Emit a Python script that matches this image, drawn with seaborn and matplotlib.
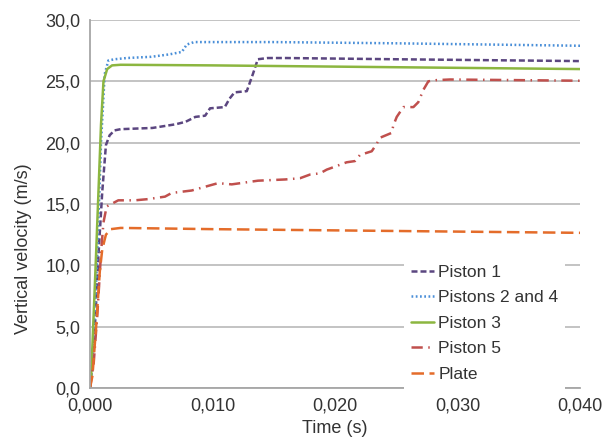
import numpy as np
import pandas as pd
import matplotlib
matplotlib.use("Agg")
import matplotlib.pyplot as plt
from matplotlib.ticker import FuncFormatter
import seaborn as sns

# ---- data ----
t_p1 = [0, 0.0003, 0.0007, 0.0010, 0.0013, 0.0016, 0.0020, 0.0025, 0.0051, 0.0070, 0.0078, 0.0086,
        0.0094, 0.0098, 0.0110, 0.0114, 0.0118, 0.0128, 0.0133, 0.0137, 0.0145, 0.0160, 0.0250, 0.0400]
v_p1 = [0, 3.0, 11.0, 16.0, 19.8, 20.6, 21.0, 21.1, 21.2, 21.5, 21.7, 22.1,
        22.2, 22.8, 22.9, 23.6, 24.1, 24.2, 25.6, 26.8, 26.9, 26.9, 26.8, 26.65]

t_p24 = [0, 0.0003, 0.0006, 0.0009, 0.0012, 0.0015, 0.0020, 0.0030, 0.0050, 0.0065, 0.0075, 0.0079,
         0.0085, 0.0150, 0.0250, 0.0400]
v_p24 = [0, 4.0, 11.0, 20.0, 25.6, 26.7, 26.8, 26.9, 27.0, 27.2, 27.4, 28.0,
         28.2, 28.2, 28.1, 27.9]

t_p3 = [0, 0.0001, 0.0005, 0.0009, 0.0011, 0.0014, 0.0018, 0.0025, 0.0100, 0.0200, 0.0300, 0.0400]
v_p3 = [0, 1.0, 11.0, 21.5, 25.0, 26.0, 26.3, 26.35, 26.3, 26.2, 26.1, 26.0]

t_p5 = [0, 0.0003, 0.0006, 0.0009, 0.0011, 0.00136, 0.00231, 0.00367, 0.00476, 0.00612, 0.00667,
        0.0083, 0.01045, 0.01157, 0.01371, 0.01592, 0.01714, 0.01796, 0.01878, 0.01932, 0.02014,
        0.02095, 0.02163, 0.02204, 0.0230, 0.0234, 0.02367, 0.02463, 0.02476, 0.02504, 0.02558,
        0.0264, 0.0268, 0.02721, 0.02762, 0.0283, 0.02939, 0.0400]
v_p5 = [0, 2.0, 6.0, 11.0, 13.5, 14.8, 15.3, 15.3, 15.4, 15.6, 15.9,
        16.1, 16.7, 16.6, 16.9, 17.0, 17.1, 17.4, 17.5, 17.8, 18.1,
        18.4, 18.5, 19.0, 19.3, 19.9, 20.4, 20.8, 21.4, 22.1, 22.9,
        22.9, 23.3, 24.3, 25.0, 25.1, 25.15, 25.05]

t_plate = [0, 0.0002, 0.0005, 0.0008, 0.0010, 0.0013, 0.0017, 0.0025, 0.0100, 0.0200, 0.0300, 0.0400]
v_plate = [0, 1.0, 5.0, 9.5, 11.3, 12.5, 12.95, 13.05, 12.95, 12.85, 12.75, 12.65]

series_names = ["Piston 1", "Pistons 2 and 4", "Piston 3", "Piston 5", "Plate"]
series_t = [t_p1, t_p24, t_p3, t_p5, t_plate]
series_v = [v_p1, v_p24, v_p3, v_p5, v_plate]

x_ticks = [0.0, 0.01, 0.02, 0.03, 0.04]
y_ticks = [0, 5, 10, 15, 20, 25, 30]

frames = []
for name, t, v in zip(series_names, series_t, series_v):
    frames.append(pd.DataFrame({"Time": t, "Velocity": v, "Series": name}))
df = pd.concat(frames, ignore_index=True)

palette = {
    "Piston 1": "#5B4680",
    "Pistons 2 and 4": "#4A8FD8",
    "Piston 3": "#8CB640",
    "Piston 5": "#C0504D",
    "Plate": "#E46C2A",
}
dashes = {
    "Piston 1": (2.4, 1.2),
    "Pistons 2 and 4": (0.7, 1.0),
    "Piston 3": "",
    "Piston 5": (4.5, 2.2, 0.6, 2.2),
    "Plate": (5.0, 2.2),
}

sns.set_style("white")
plt.rcParams["font.family"] = ["Liberation Sans", "DejaVu Sans"]

fig = plt.figure(figsize=(6.03, 4.47), dpi=100)
ax = fig.add_axes([90 / 603, 1 - 388 / 447, 490 / 603, 368 / 447])

sns.lineplot(data=df, x="Time", y="Velocity", hue="Series", style="Series",
             hue_order=series_names, style_order=series_names,
             palette=palette, dashes=dashes, linewidth=1.8,
             estimator=None, sort=False, ax=ax)

ax.set_xlim(0, 0.04)
ax.set_ylim(0, 30)
ax.set_xticks(x_ticks)
ax.set_yticks(y_ticks)
ax.xaxis.set_major_formatter(FuncFormatter(lambda v, p: f"{v:.3f}".replace(".", ",")))
ax.yaxis.set_major_formatter(FuncFormatter(lambda v, p: f"{v:.1f}".replace(".", ",")))
ax.grid(axis="y", color="#BEBEBE", linewidth=1.3)
ax.grid(axis="x", visible=False)
ax.set_axisbelow(True)
for s in ["top", "right"]:
    ax.spines[s].set_visible(False)
for s in ["left", "bottom"]:
    ax.spines[s].set_color("#A6A6A6")
    ax.spines[s].set_linewidth(1.3)
ax.tick_params(axis="both", length=0, labelsize=13, colors="#333333", pad=7)
ax.set_xlabel("Time (s)", fontsize=13, color="#333333", labelpad=4)
ax.set_ylabel("Vertical velocity (m/s)", fontsize=13, color="#333333")
ax.yaxis.set_label_coords((32 - 90) / 490, (388 - 249) / 368)

handles, labels = ax.get_legend_handles_labels()
leg = ax.legend(handles, labels, loc="upper left", bbox_to_anchor=(395 / 603, 1 - 249 / 447),
                bbox_transform=fig.transFigure, frameon=True, fontsize=12.5,
                handlelength=1.35, handletextpad=0.25, labelspacing=0.6,
                borderpad=0.4, fancybox=False)
leg.get_frame().set_facecolor("white")
leg.get_frame().set_edgecolor("none")
leg.get_frame().set_alpha(1)
for txt in leg.get_texts():
    txt.set_color("#333333")

fig.savefig("out.png", dpi=100)
